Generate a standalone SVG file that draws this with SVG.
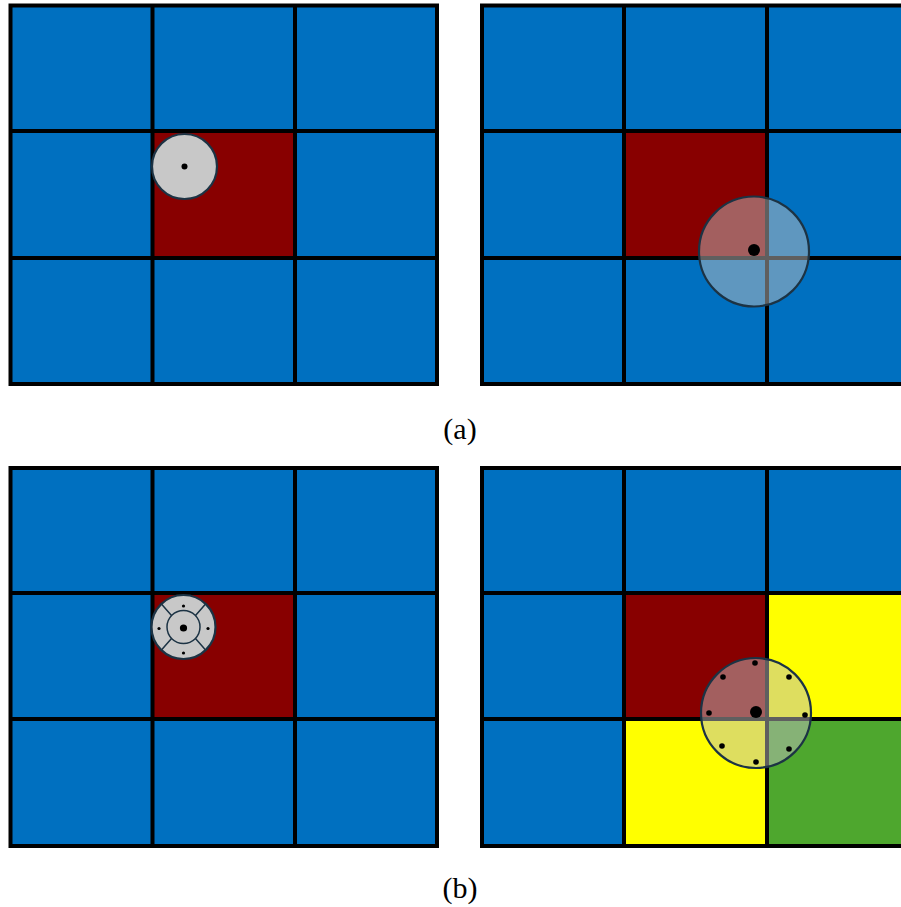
<svg xmlns="http://www.w3.org/2000/svg" width="901" height="907" viewBox="0 0 901 907">
<style>
.b{fill:#0070C0}
.r{fill:#880000}
.y{fill:#FFFF00}
.g{fill:#4EA72E}
.ln{stroke:#000;stroke-width:4;fill:none}
.ov{fill:#bebebe;fill-opacity:0.5;stroke:#1c3344;stroke-width:2.2}
.sm{fill:#c8c8c8;stroke:#1c3344;stroke-width:2.2}
.sp{stroke:#1c3344;stroke-width:1.5;fill:none}
.lbl{font-family:'Liberation Serif','Times New Roman',serif;font-size:30px;fill:#000;text-anchor:middle}
</style>
<rect width="901" height="907" fill="#fff"/>

<g id="panel-a-left">
  <rect class="b" x="10.5" y="5.5" width="426.5" height="378.5"/>
  <rect class="r" x="152.5" y="131" width="142.5" height="127"/>
  <path class="ln" d="M152.5 5.5V384M295 5.5V384M10.5 131H437M10.5 258H437"/>
  <rect class="ln" x="10.5" y="5.5" width="426.5" height="378.5"/>
  <g id="sensor-a-left">
    <circle class="sm" cx="184.5" cy="166.5" r="32.5"/>
    <circle cx="184.5" cy="166.5" r="3" fill="#000"/>
  </g>
</g>

<g id="panel-a-right">
  <rect class="b" x="482" y="5.5" width="430" height="378.5"/>
  <rect class="r" x="624" y="131" width="143" height="127"/>
  <path class="ln" d="M624 5.5V384M767 5.5V384M482 131H912M482 258H912"/>
  <rect class="ln" x="482" y="5.5" width="430" height="378.5"/>
  <g id="sensor-a-right">
    <circle class="ov" cx="754" cy="251.5" r="55"/>
    <circle cx="754" cy="250" r="6" fill="#000"/>
  </g>
</g>

<g id="panel-b-left">
  <rect class="b" x="10.5" y="468" width="426.5" height="378"/>
  <rect class="r" x="152.5" y="593" width="142.5" height="126"/>
  <path class="ln" d="M152.5 468V846M295 468V846M10.5 593H437M10.5 719H437"/>
  <rect class="ln" x="10.5" y="468" width="426.5" height="378"/>
  <g id="sensor-b-left">
    <circle class="sm" cx="183.5" cy="627" r="32"/>
    <circle class="sp" cx="183.5" cy="627" r="16.5" stroke-width="2"/>
    <path class="sp" d="M171.5 615.5L161 603.5M195.5 615.5L206 603.5M171.5 638.5L161 650.5M195.5 638.5L206 650.5"/>
    <circle cx="183.5" cy="628" r="3.6" fill="#000"/>
    <circle cx="183.5" cy="606" r="1.6" fill="#000"/>
    <circle cx="183.5" cy="653" r="1.6" fill="#000"/>
    <circle cx="159" cy="628.5" r="1.6" fill="#000"/>
    <circle cx="208" cy="628.5" r="1.6" fill="#000"/>
  </g>
</g>

<g id="panel-b-right">
  <rect class="b" x="482" y="468" width="430" height="378"/>
  <rect class="r" x="624" y="593" width="143" height="126"/>
  <rect class="y" x="767" y="593" width="145" height="126"/>
  <rect class="y" x="624" y="719" width="143" height="127"/>
  <rect class="g" x="767" y="719" width="145" height="127"/>
  <path class="ln" d="M624 468V846M767 468V846M482 593H912M482 719H912"/>
  <rect class="ln" x="482" y="468" width="430" height="378"/>
  <g id="sensor-b-right">
    <circle class="ov" cx="756" cy="713" r="55"/>
    <circle cx="756" cy="712" r="6" fill="#000"/>
    <g fill="#000">
      <circle cx="755" cy="663" r="2.8"/>
      <circle cx="723" cy="677" r="2.8"/>
      <circle cx="789" cy="677" r="2.8"/>
      <circle cx="709" cy="713" r="2.8"/>
      <circle cx="805" cy="715" r="2.8"/>
      <circle cx="722" cy="746" r="2.8"/>
      <circle cx="789" cy="749" r="2.8"/>
      <circle cx="756" cy="762" r="2.8"/>
    </g>
  </g>
</g>

<g id="labels">
  <text class="lbl" x="460" y="439">(a)</text>
  <text class="lbl" x="460" y="898">(b)</text>
</g>
</svg>
